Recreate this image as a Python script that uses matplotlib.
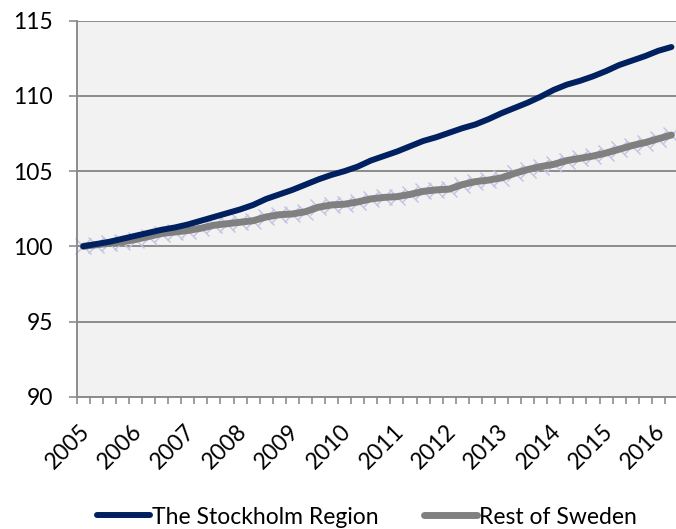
import matplotlib
matplotlib.use("Agg")
import matplotlib.pyplot as plt
from matplotlib.lines import Line2D
import matplotlib.transforms as mtransforms
import numpy as np

years = [str(y) for y in range(2005, 2017)]
stockholm = [100.0, 100.15, 100.3, 100.5, 100.7, 100.9, 101.1, 101.25, 101.45, 101.7,
             101.95, 102.2, 102.45, 102.75, 103.15, 103.45, 103.75, 104.1, 104.45, 104.75,
             105.0, 105.3, 105.7, 106.0, 106.3, 106.65, 107.0, 107.25, 107.55, 107.85,
             108.1, 108.45, 108.85, 109.2, 109.55, 109.95, 110.4, 110.75, 111.0, 111.3,
             111.65, 112.05, 112.35, 112.65, 113.0, 113.25]
rest = [100.0, 100.1, 100.2, 100.3, 100.45, 100.65, 100.85, 100.95, 101.05, 101.2,
        101.4, 101.5, 101.6, 101.7, 101.95, 102.1, 102.15, 102.3, 102.6, 102.75,
        102.8, 102.95, 103.15, 103.25, 103.3, 103.45, 103.65, 103.75, 103.8, 104.1,
        104.3, 104.4, 104.55, 104.85, 105.1, 105.3, 105.45, 105.7, 105.85, 106.0,
        106.2, 106.45, 106.7, 106.9, 107.15, 107.4]
series_names = ["The Stockholm Region", "Rest of Sweden"]
yticks = [90, 95, 100, 105, 110, 115]

plt.rcParams['font.family'] = ['Lato', 'DejaVu Sans']
FS = 16.5

W, H = 676, 529
fig = plt.figure(figsize=(W / 100, H / 100), dpi=100)
n = len(stockholm)
left_px, right_px = 76.7, 76.7 + n * 13.07
top_px, bot_px = 20.7, 396.7
ax = fig.add_axes([left_px / W, 1 - bot_px / H, (right_px - left_px) / W, (bot_px - top_px) / H])
ax.set_facecolor('#f2f2f2')

x = np.arange(n)
ax.plot(x, rest, linestyle='none', marker='x', markersize=11, markeredgewidth=1.0,
        color='#c2c2e2', zorder=2, clip_on=False)
ax.plot(x, rest, color='#808080', lw=5.0, solid_capstyle='round', solid_joinstyle='round', zorder=3)
ax.plot(x, stockholm, color='#002060', lw=4.3, solid_capstyle='round', solid_joinstyle='round', zorder=4)

ax.set_xlim(-0.5, n - 0.5)
ax.set_ylim(90, 115)
ax.set_yticks(yticks)
ax.set_yticklabels([str(v) for v in yticks])
ax.yaxis.grid(True, color='#8c8c8c', lw=1.4)
ax.set_axisbelow(True)

ax.set_xticks(np.arange(n + 1) - 0.5)
ax.set_xticklabels([])
ax.tick_params(axis='x', direction='out', length=5, width=1.2, color='#8c8c8c')
ax.tick_params(axis='y', direction='out', length=6, width=1.2, color='#8c8c8c', pad=11,
               labelsize=FS, labelcolor='black')

for s in ['top', 'right']:
    ax.spines[s].set_visible(False)
for s in ['left', 'bottom']:
    ax.spines[s].set_color('#8c8c8c')
    ax.spines[s].set_linewidth(1.4)

trans = mtransforms.blended_transform_factory(ax.transData, ax.transAxes)
offset = mtransforms.ScaledTranslation(-4 / 100, -24 / 100, fig.dpi_scale_trans)
for k, lab in enumerate(years):
    ax.text(4 * k, 0, lab, transform=trans + offset, rotation=45, rotation_mode='anchor',
            ha='right', va='top', fontsize=FS, color='black')

handles = [Line2D([], [], color='#002060', lw=4.3, solid_capstyle='round'),
           Line2D([], [], color='#808080', lw=5.0, solid_capstyle='round')]
fig.legend(handles, series_names, loc='center', bbox_to_anchor=(367 / W, 1 - 517 / H),
           ncol=2, frameon=False, fontsize=FS, handlelength=2.3, handletextpad=0.1,
           columnspacing=2.0, borderaxespad=0)

fig.savefig('out.png', dpi=100)
